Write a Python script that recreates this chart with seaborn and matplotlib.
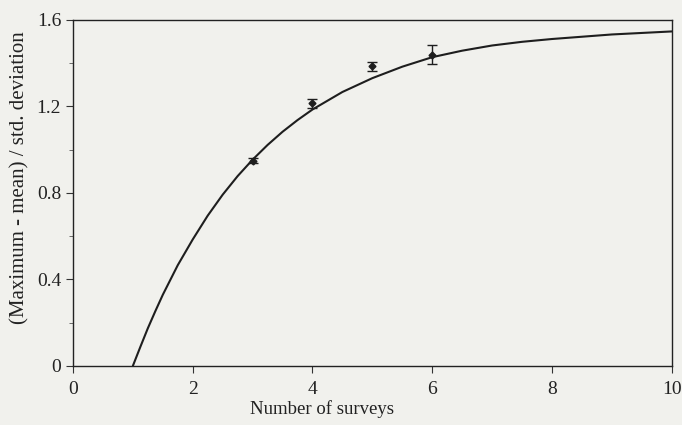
import matplotlib
matplotlib.use("Agg")
import matplotlib.pyplot as plt
import seaborn as sns
import pandas as pd
from matplotlib.ticker import MultipleLocator

# Fitted curve
curve_x = [1, 1.125, 1.25, 1.375, 1.5, 1.75, 2, 2.25, 2.5, 2.75, 3, 3.25, 3.5,
           3.75, 4, 4.5, 5, 5.5, 6, 6.5, 7, 7.5, 8, 9, 10]
curve_y = [0.0, 0.088, 0.174, 0.253, 0.329, 0.466, 0.585, 0.695, 0.792, 0.878,
           0.954, 1.022, 1.083, 1.137, 1.186, 1.267, 1.331, 1.384, 1.428,
           1.458, 1.482, 1.499, 1.512, 1.533, 1.547]

# Observed points with error bars
obs_x = [3, 4, 5, 6]
obs_y = [0.95, 1.215, 1.385, 1.44]
obs_err = [0.01, 0.02, 0.02, 0.045]

x_ticks = [0, 2, 4, 6, 8, 10]
y_ticks = [0, 0.4, 0.8, 1.2, 1.6]
y_tick_labels = ["0", "0.4", "0.8", "1.2", "1.6"]

sns.set_style("ticks")
plt.rcParams["font.family"] = ["Liberation Serif", "DejaVu Serif"]
bg = "#f1f1ed"
ink = "#1e1e1e"

fig = plt.figure(figsize=(6.82, 4.25), dpi=100, facecolor=bg)
ax = fig.add_axes([0.107, 0.139, 0.878, 0.814])
ax.set_facecolor(bg)

curve = pd.DataFrame({"x": curve_x, "y": curve_y})
sns.lineplot(data=curve, x="x", y="y", ax=ax, color=ink, linewidth=1.5)

ax.errorbar(obs_x, obs_y, yerr=obs_err, fmt="D", color=ink,
            markersize=3.5, capsize=3.5, elinewidth=1.0, capthick=1.0)

ax.set_xlim(0, 10)
ax.set_ylim(0, 1.6)
ax.set_xticks(x_ticks)
ax.set_yticks(y_ticks)
ax.set_yticklabels(y_tick_labels)
ax.yaxis.set_minor_locator(MultipleLocator(0.2))
ax.tick_params(axis="both", which="major", direction="out", length=5,
               width=0.8, labelsize=14, color="#333333", labelcolor="#222222")
ax.tick_params(axis="x", which="major", pad=6)
ax.tick_params(axis="y", which="minor", direction="out", length=3, width=0.6,
               color="#555555")

for s in ax.spines.values():
    s.set_visible(True)
    s.set_color("#222222")
    s.set_linewidth(1.0)

ax.set_xlabel("Number of surveys", fontsize=13.5, color="#222222")
ax.xaxis.set_label_coords(0.416, -0.098)
ax.set_ylabel("(Maximum - mean) / std. deviation", fontsize=15,
              color="#222222")
ax.yaxis.set_label_coords(-0.072, 0.545)

fig.savefig("out.png", dpi=100, facecolor=bg)
